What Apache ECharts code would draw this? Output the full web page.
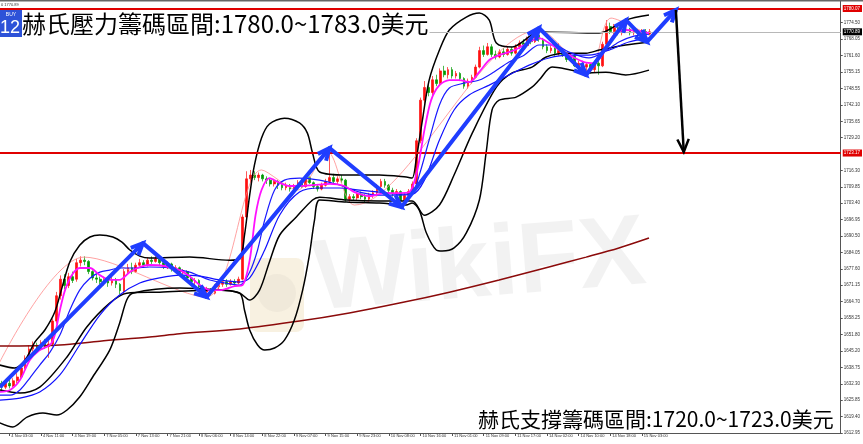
<!DOCTYPE html>
<html>
<head>
<meta charset="utf-8">
<script src="https://cdn.jsdelivr.net/npm/echarts@6/dist/echarts.min.js"></script>
<style>html,body{margin:0;padding:0;background:#fff}#c{width:863px;height:444px}</style>
</head>
<body>
<div id="c"></div>
<script>
// ---- data ----
// hourly candles: [open, close, low, high], bar index = array position
const candles = [
[1632.5,1631.0,1629.5,1633.5],[1631.0,1632.5,1630.2,1633.8],[1632.5,1631.5,1630.5,1634.0],[1631.5,1633.5,1631.0,1634.5],[1633.5,1635.0,1632.5,1636.5],
[1635.0,1638.5,1634.5,1639.5],[1638.5,1642.5,1638.0,1643.5],[1642.5,1646.0,1641.5,1647.5],[1646.0,1647.5,1645.0,1649.0],[1647.5,1646.0,1645.0,1648.5],
[1646.0,1648.5,1645.5,1649.5],[1648.5,1647.0,1646.0,1650.0],[1647.0,1648.0,1642.5,1649.5],[1648.0,1657.0,1647.0,1658.0],[1657.0,1667.0,1656.0,1668.5],
[1667.0,1673.5,1665.5,1675.0],[1673.5,1671.0,1669.5,1675.5],[1671.0,1674.5,1670.0,1676.0],[1674.5,1673.0,1672.0,1676.5],[1673.5,1680.0,1672.5,1681.5],
[1680.0,1681.0,1678.5,1682.5],[1681.0,1680.5,1679.0,1682.5],[1680.5,1676.5,1675.5,1681.0],[1676.5,1674.0,1673.0,1677.0],[1674.0,1673.5,1672.0,1675.5],
[1673.5,1672.5,1671.5,1674.5],[1672.5,1673.0,1671.0,1674.5],[1673.0,1672.0,1670.5,1674.0],[1672.0,1673.0,1671.0,1674.5],[1673.0,1671.5,1670.0,1674.0],
[1671.5,1669.0,1667.5,1672.0],[1668.5,1676.5,1667.5,1677.5],[1676.5,1678.0,1675.5,1679.5],[1678.0,1676.5,1675.5,1680.0],[1676.5,1679.0,1676.0,1680.0],
[1679.0,1680.0,1678.5,1681.5],[1680.0,1679.0,1678.0,1681.0],[1679.0,1681.0,1678.5,1682.0],[1681.0,1680.5,1679.5,1682.5],[1680.5,1681.5,1680.0,1683.0],
[1681.5,1680.0,1679.0,1682.0],[1680.0,1678.5,1677.5,1681.0],[1678.5,1679.5,1677.5,1680.5],[1679.5,1677.5,1676.5,1680.0],[1677.5,1678.0,1676.0,1679.0],
[1678.0,1676.0,1675.0,1678.5],[1676.0,1676.5,1674.5,1677.5],[1676.5,1674.0,1673.0,1677.0],[1674.0,1672.5,1671.5,1675.0],[1672.5,1673.0,1671.0,1674.0],
[1673.0,1670.5,1669.5,1673.5],[1670.5,1668.5,1667.0,1671.0],[1668.5,1669.5,1666.5,1670.5],[1669.5,1668.0,1667.0,1670.0],[1668.0,1670.5,1667.5,1671.5],
[1670.5,1671.5,1669.5,1672.5],[1671.5,1672.5,1670.5,1673.5],[1672.5,1671.5,1670.5,1673.5],[1671.5,1672.5,1671.0,1673.5],[1672.5,1672.0,1671.0,1673.5],
[1672.0,1673.5,1671.5,1674.5],[1673.5,1698.0,1673.0,1699.0],[1698.0,1713.0,1697.0,1716.0],[1713.0,1714.5,1711.5,1716.5],[1714.5,1713.5,1712.5,1716.0],
[1713.5,1714.5,1712.0,1715.5],[1714.5,1713.0,1712.0,1715.0],[1713.0,1712.5,1711.0,1714.0],[1712.5,1711.0,1710.0,1713.0],[1711.0,1712.0,1710.0,1713.0],
[1712.0,1710.5,1709.0,1712.5],[1710.5,1709.5,1708.5,1711.5],[1709.5,1710.5,1708.5,1711.5],[1710.5,1709.0,1708.0,1711.0],[1709.0,1710.0,1708.0,1711.0],
[1710.0,1711.5,1709.0,1712.5],[1711.5,1710.0,1709.5,1713.0],[1710.0,1713.0,1709.5,1714.5],[1713.5,1711.5,1711.0,1714.0],[1711.5,1710.0,1709.0,1712.0],
[1710.0,1709.0,1708.0,1711.0],[1709.0,1710.5,1708.5,1711.5],[1710.5,1712.0,1710.0,1713.0],[1712.0,1713.5,1711.5,1723.0],[1713.5,1712.0,1711.0,1715.0],
[1712.0,1713.0,1711.0,1714.0],[1713.0,1712.5,1711.5,1714.5],[1712.5,1705.0,1704.0,1713.0],[1705.0,1706.0,1703.5,1707.0],[1706.0,1705.5,1704.5,1707.0],
[1705.5,1707.0,1704.5,1708.0],[1707.0,1706.0,1705.0,1708.0],[1706.0,1705.0,1703.5,1707.0],[1705.0,1706.5,1704.0,1707.5],[1706.5,1707.5,1705.5,1708.5],
[1707.5,1710.0,1707.0,1711.0],[1710.0,1712.0,1709.0,1713.0],[1712.0,1710.5,1709.5,1713.0],[1710.5,1708.5,1707.5,1711.0],[1708.5,1707.5,1706.0,1709.5],
[1707.5,1708.0,1706.5,1709.0],[1708.0,1704.5,1703.0,1708.5],[1704.5,1706.5,1704.0,1707.5],[1706.5,1708.0,1706.0,1709.0],[1708.0,1711.0,1707.5,1712.0],
[1711.0,1728.0,1710.5,1729.0],[1728.0,1744.0,1727.0,1745.0],[1744.0,1749.0,1742.5,1751.5],[1749.0,1747.0,1745.5,1751.0],[1747.0,1752.0,1746.0,1753.5],
[1752.0,1750.5,1749.5,1754.0],[1750.5,1755.5,1750.0,1756.5],[1755.5,1754.0,1753.0,1757.5],[1754.0,1756.0,1752.5,1757.0],[1756.0,1753.5,1752.5,1757.0],
[1753.5,1754.5,1752.5,1755.5],[1754.5,1752.5,1751.5,1755.0],[1752.5,1749.5,1748.5,1753.0],[1749.5,1751.5,1748.5,1752.5],[1751.5,1753.0,1750.5,1754.0],
[1753.0,1757.0,1752.5,1758.0],[1757.0,1763.5,1756.5,1765.0],[1763.5,1762.0,1761.0,1765.5],[1762.0,1765.0,1761.5,1766.5],[1765.0,1762.0,1761.0,1766.0],
[1762.0,1761.0,1760.0,1763.5],[1761.0,1763.0,1760.5,1764.0],[1763.0,1762.0,1761.0,1764.5],[1762.0,1764.0,1761.5,1765.0],[1764.0,1762.5,1761.5,1765.0],
[1762.5,1765.0,1762.0,1766.0],[1765.0,1766.5,1764.0,1767.5],[1766.5,1765.5,1764.5,1768.0],[1765.5,1768.0,1765.0,1769.0],[1768.0,1767.0,1766.0,1769.5],
[1767.0,1769.5,1766.5,1771.0],[1769.5,1768.0,1767.0,1771.5],[1768.0,1765.0,1764.0,1768.5],[1765.0,1763.5,1762.5,1766.0],[1763.5,1764.5,1762.5,1765.5],
[1764.5,1762.5,1761.5,1765.0],[1762.5,1763.5,1761.5,1766.5],[1763.5,1762.0,1761.0,1764.0],[1762.0,1760.0,1759.0,1762.5],[1760.0,1761.5,1759.0,1762.5],
[1761.5,1757.5,1757.0,1762.5],[1757.5,1758.5,1756.5,1759.5],[1758.5,1757.0,1755.5,1759.5],[1757.0,1758.0,1755.5,1759.0],[1758.0,1756.0,1754.5,1758.5],
[1756.0,1758.5,1755.0,1759.5],[1758.5,1757.5,1754.0,1759.5],[1757.5,1766.0,1757.0,1767.0],[1766.0,1773.0,1765.5,1775.5],[1773.0,1771.0,1770.0,1774.5],
[1771.0,1772.5,1770.0,1774.0],[1772.5,1770.5,1769.5,1773.5],[1770.5,1771.5,1769.5,1773.0],[1771.5,1772.0,1770.5,1773.0],[1772.0,1770.5,1769.5,1772.5],
[1770.5,1771.5,1769.5,1772.5],[1771.5,1770.0,1768.5,1772.0],[1770.0,1771.0,1769.0,1772.0],[1771.0,1770.0,1769.0,1772.0],[1770.0,1770.9,1769.5,1772.0]
];

// indicator lines: [bar index, price]
const bbUpper = [[-0.4,1639.7],[3.4,1638.5],[6.0,1641.7],[8.5,1648.8],[11.0,1653.5],[13.5,1660.6],[15.3,1670.0],[17.3,1680.3],[19.8,1686.9],[22.4,1690.1],[24.9,1690.9],[28.2,1690.1],[30.5,1688.1],[32.5,1685.0],[35.0,1682.6],[37.5,1681.8],[47.6,1682.2],[57.7,1681.0],[60.3,1681.5],[61.5,1690.9],[62.8,1706.6],[64.0,1718.4],[65.8,1729.1],[67.8,1734.6],[71.6,1736.9],[75.4,1735.0],[77.4,1731.0],[78.7,1723.2],[80.5,1715.7],[87.3,1714.5],[95.6,1714.5],[102.4,1713.7],[103.9,1713.3],[104.9,1720.4],[106.5,1736.2],[108.2,1751.9],[110.8,1763.7],[113.3,1771.6],[117.6,1776.7],[120.9,1778.3],[123.4,1775.5],[125.2,1766.5],[129.2,1764.9],[136.0,1770.8],[151.2,1770.4],[157.9,1775.5],[163.8,1777.5]];
const bbLower = [[-0.4,1616.9],[2.9,1615.3],[6.5,1619.2],[10.5,1620.8],[14.0,1620.0],[16.6,1622.0],[19.8,1627.1],[23.1,1635.0],[27.4,1645.6],[29.9,1656.2],[31.7,1665.3],[33.2,1668.0],[45.1,1670.0],[55.2,1669.2],[60.3,1668.0],[61.5,1661.3],[62.8,1653.5],[64.8,1647.6],[66.6,1645.6],[69.1,1646.4],[71.6,1649.5],[74.1,1657.4],[76.2,1669.2],[77.9,1683.0],[79.2,1696.8],[80.5,1704.7],[87.3,1703.9],[95.6,1703.5],[102.4,1702.7],[103.9,1703.5],[105.7,1700.7],[107.5,1691.7],[110.0,1685.0],[111.5,1684.6],[114.5,1685.8],[117.6,1691.7],[120.9,1704.7],[122.6,1723.2],[124.1,1740.1],[125.9,1744.0],[130.2,1745.2],[134.2,1749.1],[136.0,1751.9],[139.3,1757.0],[144.3,1755.8],[148.6,1754.7],[152.9,1755.0],[157.9,1753.9],[163.8,1755.8]];
const bbInner = [[-0.4,1629.9],[4.7,1628.7],[9.7,1631.0],[16.6,1642.9],[21.6,1654.7],[27.4,1664.1],[31.7,1668.0],[40.0,1668.4],[55.2,1669.2],[60.3,1668.0],[62.8,1665.3],[65.3,1669.2],[67.8,1680.3],[70.4,1690.9],[74.6,1698.0],[78.7,1704.7],[80.5,1705.8],[87.3,1704.7],[95.6,1704.3],[103.9,1704.3],[107.0,1698.7],[110.8,1702.7],[114.5,1714.5],[119.1,1731.0],[125.2,1749.1],[129.2,1754.7],[134.2,1757.0],[137.8,1761.0],[142.8,1762.5],[147.9,1762.5],[151.2,1763.7],[157.9,1765.7],[163.8,1766.9]];
const maFast = [[-0.4,1629.1],[2.2,1629.9],[4.7,1633.8],[7.2,1641.7],[9.7,1645.6],[12.3,1647.6],[13.5,1651.5],[14.8,1661.3],[16.1,1669.2],[17.8,1675.1],[19.8,1677.9],[22.4,1677.9],[24.9,1675.1],[27.4,1673.2],[29.9,1673.2],[32.5,1676.3],[35.0,1678.3],[37.5,1679.1],[41.3,1678.7],[45.1,1677.1],[47.6,1674.7],[50.2,1671.2],[52.7,1669.2],[55.2,1669.2],[59.0,1670.8],[61.0,1671.2],[62.8,1681.0],[64.3,1698.8],[65.8,1708.6],[67.8,1713.3],[70.4,1711.4],[72.9,1710.2],[75.4,1710.2],[79.2,1710.6],[83.0,1711.0],[86.8,1710.2],[89.3,1707.8],[93.1,1706.2],[96.9,1707.4],[100.7,1707.4],[103.2,1707.8],[105.2,1716.5],[107.0,1732.2],[108.7,1744.0],[110.8,1749.9],[113.3,1751.9],[115.8,1751.9],[118.3,1751.1],[120.9,1755.1],[123.4,1759.8],[125.9,1761.7],[128.4,1762.9],[130.9,1764.5],[133.5,1766.9],[136.0,1768.4],[138.5,1766.5],[141.1,1763.7],[143.6,1761.7],[147.4,1759.0],[149.9,1758.6],[152.4,1762.9],[154.9,1769.6],[157.5,1771.6],[161.3,1771.2],[163.8,1770.4]];
const maMid = [[-0.4,1627.9],[2.2,1627.9],[4.7,1629.9],[7.2,1634.6],[9.7,1639.7],[12.3,1644.8],[14.8,1651.5],[17.3,1661.3],[19.8,1669.2],[22.4,1673.9],[24.9,1676.3],[27.4,1677.1],[29.9,1677.9],[33.7,1677.9],[37.5,1678.3],[42.6,1677.9],[47.6,1676.3],[52.7,1673.2],[56.5,1672.0],[60.3,1671.2],[62.8,1676.3],[64.8,1685.0],[66.6,1696.8],[69.1,1708.6],[71.6,1712.5],[75.4,1713.3],[80.5,1712.5],[85.5,1710.6],[90.6,1707.8],[95.6,1706.6],[100.7,1706.6],[103.9,1707.4],[105.7,1714.5],[108.2,1728.3],[110.8,1742.1],[113.3,1748.8],[117.1,1750.7],[120.9,1751.9],[124.6,1755.1],[128.4,1759.0],[132.2,1761.7],[136.0,1765.7],[139.8,1765.7],[143.6,1762.9],[148.6,1760.6],[152.4,1762.9],[156.2,1766.9],[160.0,1769.2],[163.8,1770.0]];
const maSlow = [[-0.4,1625.9],[4.7,1626.7],[9.7,1629.1],[14.8,1635.8],[19.8,1647.6],[24.9,1659.4],[29.9,1667.3],[35.0,1672.0],[40.0,1674.0],[45.1,1675.1],[50.2,1674.7],[55.2,1673.2],[60.3,1672.4],[62.8,1674.0],[66.6,1685.0],[70.4,1698.8],[75.4,1707.8],[80.5,1709.4],[85.5,1709.4],[90.6,1708.6],[95.6,1707.8],[100.7,1707.0],[103.9,1707.0],[107.0,1712.5],[110.8,1728.3],[114.5,1740.1],[118.3,1746.0],[123.4,1749.9],[128.4,1753.9],[133.5,1757.8],[138.5,1760.6],[143.6,1761.7],[148.6,1761.7],[153.7,1763.7],[158.7,1766.9],[163.8,1768.4]];
const maLong = [[-0.4,1647.2],[14.8,1647.6],[24.9,1649.1],[37.5,1650.7],[45.1,1652.0],[60.3,1653.9],[75.4,1657.0],[88.0,1660.2],[100.7,1664.1],[113.3,1668.4],[125.9,1673.2],[138.5,1678.3],[147.9,1682.2],[156.2,1685.8],[163.8,1689.7]];
const zigzagThin = [[-0.4,1640.9],[20.9,1682.2],[51.7,1666.5],[65.8,1716.5],[74.9,1708.6],[82.5,1723.6],[89.3,1702.7],[136.0,1771.6],[148.6,1755.0],[154.2,1776.3],[163.8,1769.6]];

// drawn annotations
const blueWave = [[-0.35,1631.0],[35.8,1687.7],[51.9,1666.5],[83.0,1725.1],[101.2,1701.9],[136.0,1772.4],[147.9,1753.9],[158.0,1775.5],[163.3,1766.9],[170.6,1779.5]];
const downArrow = [[170.6,1779.5],[172.6,1723.6]];
const resistanceLevel = 1780.07;
const supportLevel = 1723.17;
const lastPrice = 1770.89;
const titleTop = '赫氏壓力籌碼區間:1780.0~1783.0美元';
const titleBottom = '赫氏支撐籌碼區間:1720.0~1723.0美元';

// axes
const xTickIndex = [2,10,18,26,34,42,50,58,66,74,82,90,98,106,114,122,130,138,146,154,162];
const xTickLabels = ['4 Nov 03:00','4 Nov 11:00','4 Nov 19:00','7 Nov 05:00','7 Nov 13:00','7 Nov 21:00','8 Nov 06:00','8 Nov 14:00','8 Nov 22:00','9 Nov 07:00','9 Nov 15:00','9 Nov 23:00','10 Nov 08:00','10 Nov 16:00','11 Nov 01:00','11 Nov 09:00','11 Nov 17:00','14 Nov 02:00','14 Nov 10:00','14 Nov 18:00','15 Nov 03:00'];
const yTickValues = [1612.95,1619.40,1625.85,1632.30,1638.75,1645.20,1651.80,1658.25,1664.70,1671.15,1677.60,1684.05,1690.50,1696.95,1703.40,1709.85,1716.30,1729.20,1735.65,1742.10,1748.55,1755.15,1761.60,1768.05,1774.50];

// ---- chart ----
const chart = echarts.init(document.getElementById('c'), null, {renderer: 'canvas'});

function arrowPath(points, color, width, headLen, api) {
  const pts = points.map(p => api.coord(p));
  const children = [{type: 'polyline', shape: {points: pts}, style: {stroke: color, lineWidth: width, fill: null, lineJoin: 'round'}}];
  for (let k = 1; k < pts.length; k++) {
    const [x0, y0] = pts[k - 1], [x1, y1] = pts[k];
    const ang = Math.atan2(y1 - y0, x1 - x0);
    const a1 = ang + Math.PI - 0.42, a2 = ang + Math.PI + 0.42;
    children.push({type: 'polyline', shape: {points: [[x1 + headLen * Math.cos(a1), y1 + headLen * Math.sin(a1)], [x1, y1], [x1 + headLen * Math.cos(a2), y1 + headLen * Math.sin(a2)]]},
      style: {stroke: color, lineWidth: width, fill: null, lineJoin: 'miter'}});
  }
  return {type: 'group', children};
}

function lineSeries(data, color, width, z) {
  return {type: 'line', data, showSymbol: false, smooth: 0.3, silent: true, z: z || 3,
    lineStyle: {color, width}, emphasis: {disabled: true}};
}

const smallFont = 'Liberation Sans';

const option = {
  animation: false,
  backgroundColor: '#ffffff',
  grid: {left: 0, right: 21, top: 0, bottom: 11, containLabel: false},
  xAxis: {
    type: 'value', min: -0.35, max: 212.3,
    axisLine: {show: true, onZero: false, lineStyle: {color: '#555', width: 1}},
    splitLine: {show: false},
    axisTick: {show: true, customValues: xTickIndex, length: 3, lineStyle: {color: '#555'}},
    axisLabel: {customValues: xTickIndex, formatter: v => xTickLabels[xTickIndex.indexOf(v)] || '',
      fontSize: 4, fontFamily: smallFont, color: '#333', align: 'left', margin: 1, padding: [0, 0, 0, 2]}
  },
  yAxis: {
    type: 'value', position: 'right', min: 1612.95, max: 1783.42, scale: true,
    axisLine: {show: true, onZero: false, lineStyle: {color: '#555', width: 1}},
    splitLine: {show: false},
    axisTick: {show: true, customValues: yTickValues, length: 2, lineStyle: {color: '#555'}},
    axisLabel: {customValues: yTickValues, formatter: v => v.toFixed(2), fontSize: 4.5, fontFamily: smallFont, color: '#333', margin: 3}
  },
  series: [
    {
      type: 'candlestick', silent: true, z: 2,
      data: candles.map((c, i) => [i, c[0], c[1], c[2], c[3]]),
      encode: {x: 0, y: [1, 2, 3, 4]},
      barWidth: 2.2,
      itemStyle: {color: '#ff1010', color0: '#009a00', borderColor: '#ff1010', borderColor0: '#009a00', borderWidth: 0.7},
      markLine: {
        silent: true, symbol: ['none', 'none'], animation: false,
        data: [
          {yAxis: lastPrice, lineStyle: {color: '#b8b8b8', width: 1, type: 'solid'},
            label: {formatter: lastPrice.toFixed(2), backgroundColor: '#000', color: '#fff'}},
          {yAxis: resistanceLevel, lineStyle: {color: '#e00000', width: 2, type: 'solid'},
            label: {formatter: resistanceLevel.toFixed(2), backgroundColor: '#e00000', color: '#fff'}},
          {yAxis: supportLevel, lineStyle: {color: '#e00000', width: 2, type: 'solid'},
            label: {formatter: supportLevel.toFixed(2), backgroundColor: '#e00000', color: '#fff'}}
        ],
        label: {position: 'end', distance: 2, fontSize: 4.5, fontFamily: smallFont, padding: [1, 2, 1, 1]}
      }
    },
    lineSeries(zigzagThin, '#ff8a8a', 0.8, 3),
    lineSeries(maLong, '#8b0a0a', 1.5, 3),
    lineSeries(bbUpper, '#000000', 1.5, 4),
    lineSeries(bbLower, '#000000', 1.5, 4),
    lineSeries(bbInner, '#000000', 1.5, 4),
    lineSeries(maSlow, '#1010ff', 1.2, 5),
    lineSeries(maMid, '#1a1aff', 1.2, 5),
    lineSeries(maFast, '#ff10ff', 1.8, 6),
    {
      type: 'custom', silent: true, z: 10, clip: false,
      data: [[0, 1700]], encode: {x: 0, y: 1},
      renderItem: (params, api) => ({type: 'group', children: [
        arrowPath(blueWave, '#1f3dff', 4, 13, api),
        arrowPath(downArrow, '#000000', 2.5, 14, api)
      ]})
    }
  ],
  graphic: [
    // watermark
    {type: 'rect', z: 1, silent: true, shape: {x: 250, y: 258, width: 54, height: 74, r: 8}, style: {fill: 'rgba(236,216,170,0.35)'}},
    {type: 'circle', z: 1, silent: true, shape: {cx: 277, cy: 293, r: 19}, style: {fill: 'rgba(120,120,120,0.06)'}},
    {type: 'text', z: 1, silent: true, x: 314, y: 282, rotation: 0.08,
      style: {text: 'WikiFX', font: 'bold 100px "Liberation Sans"', fill: 'rgba(0,0,0,0.05)', textVerticalAlign: 'middle'}},
    // top border + header
    {type: 'rect', z: 100, silent: true, shape: {x: 0, y: 0, width: 863, height: 1.5}, style: {fill: '#666'}},
    {type: 'text', z: 100, silent: true, x: 1, y: 5, style: {text: '0 1770.89', font: '4px "Liberation Sans"', fill: '#333', textVerticalAlign: 'middle'}},
    // BUY box
    {type: 'rect', z: 100, silent: true, shape: {x: 0, y: 10, width: 22, height: 27}, style: {fill: '#2d52d8'}},
    {type: 'text', z: 101, silent: true, x: 11, y: 14.5, style: {text: 'BUY', font: '5px "Liberation Sans"', fill: '#fff', textAlign: 'center', textVerticalAlign: 'middle'}},
    {type: 'text', z: 101, silent: true, x: 0, y: 28.5, style: {text: '12', font: '18px "Liberation Sans"', fill: '#fff', textVerticalAlign: 'middle'}},
    // annotation texts
    {type: 'text', z: 100, silent: true, x: 22, y: 24,
      style: {text: titleTop, font: '24px "Noto Sans CJK TC"', fill: '#000', textVerticalAlign: 'middle', backgroundColor: '#fff', padding: [0, 1, 0, 0]}},
    {type: 'text', z: 100, silent: true, x: 478, y: 419,
      style: {text: titleBottom, font: '21px "Noto Sans CJK TC"', fill: '#000', textVerticalAlign: 'middle', backgroundColor: '#fff', padding: [0, 2, 0, 0]}}
  ]
};
chart.setOption(option);
</script>
</body>
</html>
